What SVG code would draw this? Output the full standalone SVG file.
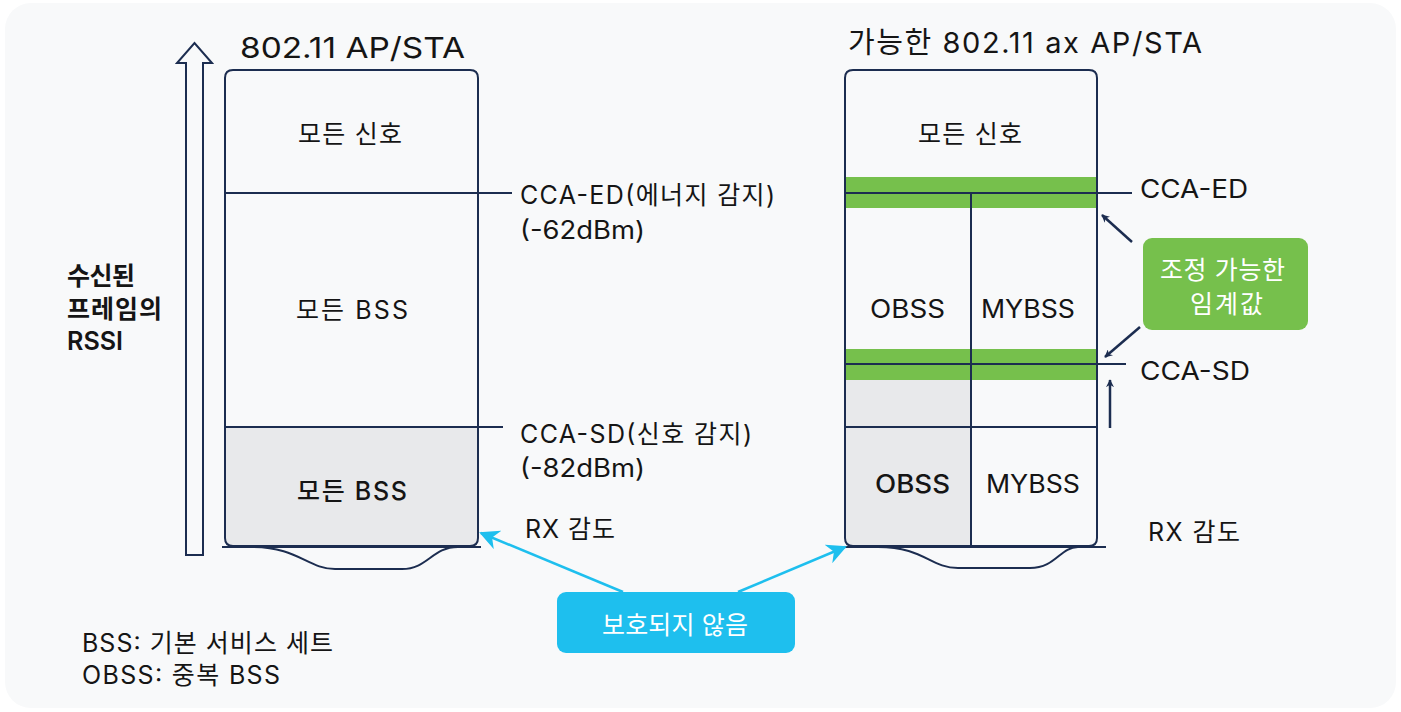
<svg xmlns="http://www.w3.org/2000/svg" width="1401" height="712" viewBox="0 0 1401 712">
<defs>
<style>
.t{font-family:Inter,"Noto Sans CJK KR",sans-serif;fill:#151515;font-size:25px}
.h{font-size:29px}
.wt{fill:#ffffff}
.ln{stroke:#1c2d50;stroke-width:2;fill:none}
</style>
<marker id="an" viewBox="0 0 10 10" refX="9" refY="5" markerWidth="8" markerHeight="8" orient="auto" markerUnits="userSpaceOnUse">
<path d="M0,0 L10,5 L0,10 L3,5 Z" fill="#1c2d50"/>
</marker>
<marker id="ac" viewBox="0 0 10 10" refX="9" refY="5" markerWidth="20" markerHeight="20" orient="auto" markerUnits="userSpaceOnUse">
<path d="M0,0 L10,5 L0,10 L3,5 Z" fill="#1ebfee"/>
</marker>
</defs>
<rect x="0" y="0" width="1401" height="712" fill="#ffffff"/>
<rect x="5" y="3" width="1391" height="705" rx="26" fill="#f8f9fa"/>

<g id="axis">
<path class="ln" d="M186,555 L186,63 L177,63 L194.5,43 L212,63 L203,63 L203,555 Z"/>
<text class="t" font-weight="600" x="67" y="285" textLength="68">수신된</text>
<text class="t" font-weight="600" x="67" y="318" textLength="95">프레임의</text>
<text class="t" font-weight="600" x="67" y="350" textLength="56" lengthAdjust="spacingAndGlyphs">RSSI</text>
</g>

<g id="left-column">
<text class="t h" x="240" y="58" textLength="225" lengthAdjust="spacingAndGlyphs">802.11 AP/STA</text>
<path d="M225,427 H478 V538 Q478,546 470,546 H233 Q225,546 225,538 Z" fill="#e8e9eb"/>
<path class="ln" d="M233,70 H470 Q478,70 478,78 V538 Q478,546 470,546 H233 Q225,546 225,538 V78 Q225,70 233,70 Z"/>
<line class="ln" x1="225" y1="193" x2="512" y2="193"/>
<line class="ln" x1="225" y1="427" x2="503" y2="427"/>
<line class="ln" x1="222" y1="547" x2="481" y2="547"/>
<path class="ln" d="M252,547 C298,547 308,569 335,569 L402,569 C428,569 432,547 458,547"/>
<text class="t" x="298" y="143" textLength="104">모든 신호</text>
<text class="t" x="296" y="319" textLength="112">모든 BSS</text>
<text class="t" font-weight="500" x="297" y="500" textLength="110">모든 BSS</text>
<text class="t" x="520" y="204" textLength="255">CCA-ED(에너지 감지)</text>
<text class="t" x="520" y="239" textLength="125" lengthAdjust="spacingAndGlyphs">(-62dBm)</text>
<text class="t" x="520" y="443" textLength="232">CCA-SD(신호 감지)</text>
<text class="t" x="520" y="477" textLength="125" lengthAdjust="spacingAndGlyphs">(-82dBm)</text>
<text class="t" x="525" y="538" textLength="90">RX 감도</text>
</g>

<g id="right-column">
<text class="t h" x="848" y="53" textLength="354">가능한 802.11 ax AP/STA</text>
<path d="M845,380 H971 V546 H853 Q845,546 845,538 Z" fill="#e8e9eb"/>
<rect x="845" y="177" width="252" height="31" fill="#76c04c"/>
<rect x="845" y="349" width="252" height="31" fill="#76c04c"/>
<path class="ln" d="M853,70 H1089 Q1097,70 1097,78 V538 Q1097,546 1089,546 H853 Q845,546 845,538 V78 Q845,70 853,70 Z"/>
<line class="ln" x1="845" y1="193" x2="1132" y2="193"/>
<line class="ln" x1="845" y1="364" x2="1126" y2="364"/>
<line class="ln" x1="845" y1="427" x2="1097" y2="427"/>
<line class="ln" x1="971" y1="193" x2="971" y2="546"/>
<line class="ln" x1="845" y1="547" x2="1106" y2="547"/>
<path class="ln" d="M878,547 C924,547 930,568 958,568 L1030,568 C1056,568 1060,547 1078,547"/>
<text class="t" x="918" y="143" textLength="104">모든 신호</text>
<text class="t" x="870" y="318" textLength="75" lengthAdjust="spacingAndGlyphs">OBSS</text>
<text class="t" x="981" y="318" textLength="94" lengthAdjust="spacingAndGlyphs">MYBSS</text>
<text class="t" font-weight="500" x="875" y="493" textLength="75" lengthAdjust="spacingAndGlyphs">OBSS</text>
<text class="t" x="986" y="493" textLength="94" lengthAdjust="spacingAndGlyphs">MYBSS</text>
<text class="t" x="1140" y="198" textLength="108" lengthAdjust="spacingAndGlyphs">CCA-ED</text>
<text class="t" x="1140" y="380" textLength="110" lengthAdjust="spacingAndGlyphs">CCA-SD</text>
<text class="t" x="1148" y="541" textLength="92">RX 감도</text>
</g>

<g id="threshold-label">
<rect x="1143" y="238" width="165" height="92" rx="9" fill="#76c04c"/>
<text class="t wt" x="1160" y="279" textLength="125">조정 가능한</text>
<text class="t wt" x="1190" y="313" textLength="73">임계값</text>
</g>

<g id="unprotected-label">
<rect x="557" y="592" width="238" height="61" rx="9" fill="#1ebfee"/>
<text class="t wt" x="602" y="634" textLength="146">보호되지 않음</text>
</g>

<g id="legend">
<text class="t" font-size="24" x="82" y="652" textLength="251">BSS: 기본 서비스 세트</text>
<text class="t" font-size="24" x="82" y="684" textLength="198">OBSS: 중복 BSS</text>
</g>

<g id="connectors">
<line x1="1132" y1="242" x2="1102" y2="215" stroke="#1c2d50" stroke-width="2.5" marker-end="url(#an)"/>
<line x1="1140" y1="327" x2="1105" y2="357" stroke="#1c2d50" stroke-width="2.5" marker-end="url(#an)"/>
<line x1="1110" y1="428" x2="1110" y2="380" stroke="#1c2d50" stroke-width="2.5" marker-end="url(#an)"/>
<line x1="623" y1="592" x2="481" y2="533" stroke="#1ebfee" stroke-width="2.5" marker-end="url(#ac)"/>
<line x1="738" y1="592" x2="845" y2="547" stroke="#1ebfee" stroke-width="2.5" marker-end="url(#ac)"/>
</g>
</svg>
